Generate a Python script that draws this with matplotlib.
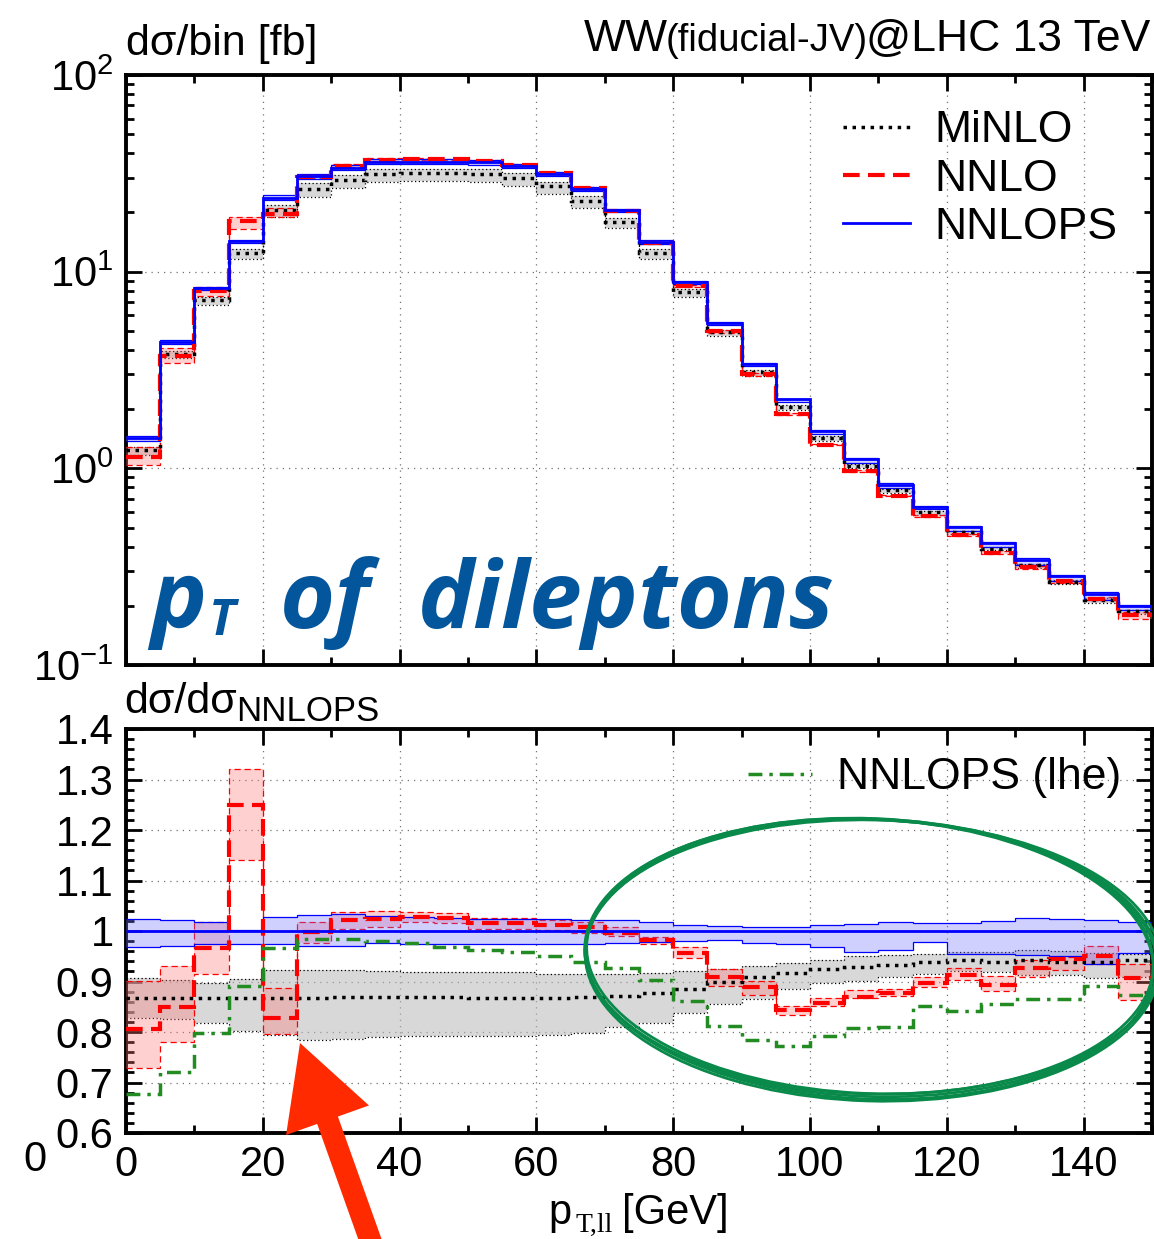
import numpy as np
import matplotlib
matplotlib.use("Agg")
import matplotlib.pyplot as plt
from matplotlib.lines import Line2D
from matplotlib.patches import Ellipse, FancyArrow
from matplotlib.transforms import Affine2D
from matplotlib.ticker import MultipleLocator, LogLocator, NullFormatter

plt.rcParams['font.family'] = ['Liberation Sans', 'DejaVu Sans']
plt.rcParams['mathtext.fontset'] = 'custom'
plt.rcParams['mathtext.rm'] = 'Liberation Sans'
plt.rcParams['mathtext.it'] = 'Liberation Sans:italic'

# --- data (5 GeV bins of pT,ll) ---
edges = [0, 5, 10, 15, 20, 25, 30, 35, 40, 45, 50, 55, 60, 65, 70, 75,
         80, 85, 90, 95, 100, 105, 110, 115, 120, 125, 130, 135, 140, 145, 150]

# NNLOPS dsigma/bin [fb]
nnlops_xs = [1.42, 4.40, 8.25, 14.4, 23.8, 30.5, 33.8, 36.3, 36.3, 36.3,
             36.0, 34.5, 31.3, 26.4, 20.5, 14.2, 8.88, 5.47, 3.39, 2.24,
             1.54, 1.11, 0.827, 0.637, 0.501, 0.416, 0.340, 0.282, 0.229, 0.199]
nnlops_hi = [1.023, 1.021, 1.017, 1.002, 1.028, 1.031, 1.034, 1.030, 1.027, 1.026,
             1.024, 1.023, 1.023, 1.021, 1.021, 1.017, 1.011, 1.010, 1.007, 1.007,
             1.012, 1.013, 1.017, 1.015, 1.015, 1.020, 1.026, 1.023, 1.021, 1.017]
nnlops_lo = [0.968, 0.970, 0.974, 0.975, 0.975, 0.970, 0.970, 0.977, 0.974, 0.974,
             0.974, 0.974, 0.974, 0.974, 0.977, 0.979, 0.980, 0.982, 0.976, 0.974,
             0.968, 0.958, 0.962, 0.979, 0.955, 0.954, 0.952, 0.950, 0.934, 0.957]

# ratios to NNLOPS
minlo_r = [0.868, 0.868, 0.868, 0.868, 0.868, 0.868, 0.869, 0.869, 0.870, 0.870,
           0.868, 0.867, 0.867, 0.869, 0.871, 0.878, 0.886, 0.900, 0.909, 0.917,
           0.924, 0.929, 0.933, 0.939, 0.942, 0.939, 0.943, 0.939, 0.939, 0.942]
minlo_hi = [0.906, 0.902, 0.898, 0.904, 0.922, 0.922, 0.922, 0.921, 0.919, 0.919,
            0.919, 0.919, 0.914, 0.914, 0.914, 0.916, 0.921, 0.924, 0.931, 0.937,
            0.943, 0.950, 0.952, 0.954, 0.958, 0.959, 0.962, 0.960, 0.957, 0.955]
minlo_lo = [0.828, 0.825, 0.818, 0.802, 0.794, 0.785, 0.787, 0.791, 0.792, 0.792,
            0.792, 0.792, 0.794, 0.799, 0.809, 0.818, 0.838, 0.856, 0.865, 0.886,
            0.898, 0.901, 0.909, 0.914, 0.921, 0.919, 0.912, 0.912, 0.906, 0.908]

nnlo_r = [0.806, 0.849, 0.967, 1.250, 0.828, 0.998, 1.021, 1.023, 1.028, 1.025,
          1.015, 1.015, 1.011, 1.007, 0.997, 0.982, 0.957, 0.908, 0.889, 0.843,
          0.858, 0.869, 0.878, 0.898, 0.913, 0.893, 0.927, 0.944, 0.950, 0.906]
nnlo_hi = [0.901, 0.931, 1.018, 1.320, 0.887, 1.018, 1.038, 1.040, 1.038, 1.035,
           1.025, 1.025, 1.021, 1.017, 1.007, 0.988, 0.968, 0.925, 0.901, 0.851,
           0.867, 0.884, 0.886, 0.908, 0.926, 0.911, 0.942, 0.949, 0.970, 0.934]
nnlo_lo = [0.729, 0.781, 0.915, 1.140, 0.797, 0.977, 1.003, 1.007, 1.018, 1.016,
           1.003, 1.003, 1.001, 0.997, 0.990, 0.975, 0.946, 0.891, 0.873, 0.833,
           0.851, 0.868, 0.871, 0.889, 0.902, 0.881, 0.909, 0.922, 0.934, 0.863]

lhe_r = [0.678, 0.721, 0.799, 0.892, 0.966, 0.985, 0.985, 0.981, 0.977, 0.968,
         0.962, 0.958, 0.950, 0.939, 0.927, 0.903, 0.861, 0.811, 0.785, 0.772,
         0.792, 0.807, 0.809, 0.851, 0.842, 0.855, 0.865, 0.865, 0.891, 0.873]

x_ticks = [0, 20, 40, 60, 80, 100, 120, 140]
x_tick_labels = ['0', '20', '40', '60', '80', '100', '120', '140']
top_ticks = [0.1, 1, 10, 100]
top_tick_labels = [r'$\mathrm{10^{-1}}$', r'$\mathrm{10^{0}}$', r'$\mathrm{10^{1}}$', r'$\mathrm{10^{2}}$']
ratio_ticks = [0.6, 0.7, 0.8, 0.9, 1.0, 1.1, 1.2, 1.3, 1.4]
ratio_tick_labels = ['0.6', '0.7', '0.8', '0.9', '1', '1.1', '1.2', '1.3', '1.4']

edges = np.array(edges)
nnlops_xs = np.array(nnlops_xs)
one = np.ones_like(nnlops_xs)

# --- figure ---
W, H = 1154, 1239
fig = plt.figure(figsize=(W / 100, H / 100), dpi=100)
pix = Affine2D().scale(1 / W, -1 / H).translate(0, 1) + fig.transFigure

ax1 = fig.add_axes([126 / W, 1 - 665 / H, 1026 / W, 590 / H])
ax2 = fig.add_axes([126 / W, 1 - 1133 / H, 1026 / W, 404 / H])

DOT = (0, (1, 1.6))
DASH = (0, (4, 2))
DASHDOT = (0, (4, 2, 1, 2))

styles = [
    # name, colour, fill, linestyle, band-edge style, lw, zorder
    ('minlo', 'k', (0.72, 0.72, 0.72, 0.55), DOT, (0, (1, 2)), 2.5, 2),
    ('nnlo', 'red', (1.0, 0.45, 0.45, 0.33), DASH, (0, (5, 3)), 3.0, 3),
    ('nnlops', 'blue', (0.45, 0.45, 1.0, 0.33), '-', '-', 2.0, 4),
]
sets = {
    'minlo': (np.array(minlo_r), np.array(minlo_lo), np.array(minlo_hi)),
    'nnlo': (np.array(nnlo_r), np.array(nnlo_lo), np.array(nnlo_hi)),
    'nnlops': (one, np.array(nnlops_lo), np.array(nnlops_hi)),
}

for ax, scale in ((ax1, nnlops_xs), (ax2, one)):
    for name, col, fill, ls, els, lw, z in styles:
        c, lo, hi = sets[name]
        ax.stairs(hi * scale, edges, baseline=lo * scale, fill=True,
                  facecolor=fill, edgecolor='none', zorder=z)
        for b in (lo, hi):
            ax.stairs(b * scale, edges, baseline=None, color=col, lw=0.9, linestyle=els, zorder=z)
        ax.stairs(c * scale, edges, baseline=None, color=col, lw=lw, linestyle=ls, zorder=z + 5)

ax2.stairs(lhe_r, edges, baseline=None, color='#228b22', lw=2.5, linestyle=DASHDOT, zorder=8)

# --- axes styling ---
for ax in (ax1, ax2):
    ax.set_xlim(0, 150)
    ax.xaxis.set_major_locator(MultipleLocator(20))
    ax.xaxis.set_minor_locator(MultipleLocator(10))
    ax.tick_params(which='both', direction='in', top=True, right=True, width=2, labelsize=30, pad=9)
    ax.tick_params(which='major', length=11.5)
    ax.tick_params(which='minor', length=6)
    ax.grid(True, which='major', color='0.45', linestyle=(0, (1, 4)), linewidth=0.9)
    ax.set_axisbelow(True)
    for s in ax.spines.values():
        s.set_linewidth(2.8)

ax1.set_yscale('log')
ax1.set_ylim(0.1, 100)
ax1.set_yticks(top_ticks, labels=top_tick_labels)
ax1.yaxis.set_minor_locator(LogLocator(base=10, subs=[2, 3, 4, 5, 6, 7, 8, 9]))
ax1.yaxis.set_minor_formatter(NullFormatter())
ax1.tick_params(labelbottom=False)

ax2.set_ylim(0.6, 1.4)
ax2.set_yticks(ratio_ticks, labels=ratio_tick_labels)
ax2.yaxis.set_minor_locator(MultipleLocator(0.02))
ax2.set_xticks(x_ticks, labels=x_tick_labels)

# legends
h1 = [Line2D([], [], color='k', lw=2.5, linestyle=DOT),
      Line2D([], [], color='red', lw=3, linestyle=DASH),
      Line2D([], [], color='blue', lw=2)]
ax1.legend(h1, ['MiNLO', 'NNLO', 'NNLOPS'], loc='upper left', bbox_to_anchor=(0.699, 0.94),
           frameon=False, fontsize=32, handlelength=1.5, handletextpad=0.55,
           labelspacing=0.16, borderpad=0, borderaxespad=0)
h2 = [Line2D([], [], color='#228b22', lw=2.5, linestyle=DASHDOT)]
ax2.legend(h2, ['NNLOPS (lhe)'], loc='upper left', bbox_to_anchor=(0.606, 0.93),
           frameon=False, fontsize=32, handlelength=1.45, handletextpad=0.55,
           borderpad=0, borderaxespad=0)

# --- texts ---
fig.text(126, 55, 'dσ/bin [fb]', transform=pix, fontsize=31, va='baseline')
fig.text(124, 713, 'dσ/dσ', transform=pix, fontsize=31, va='baseline')
fig.text(236, 721, 'NNLOPS', transform=pix, fontsize=25, va='baseline')
fig.text(584, 51, 'WW', transform=pix, fontsize=32, va='baseline')
fig.text(666, 51, '(fiducial-JV)', transform=pix, fontsize=27.5, va='baseline')
fig.text(1150, 51, '@LHC 13 TeV', transform=pix, fontsize=32, va='baseline', ha='right')
fig.text(548, 1224, 'p', transform=pix, fontsize=30, va='baseline')
fig.text(575, 1232, 'T,ll', transform=pix, fontsize=20, va='baseline', family='Liberation Serif')
fig.text(622, 1224, '[GeV]', transform=pix, fontsize=30, va='baseline')
fig.text(35, 1160, '0', transform=pix, fontsize=30, va='center', ha='center')

blue_txt = '#03569b'
bold_it = dict(transform=pix, va='baseline', color=blue_txt, family='Open Sans',
               style='italic', weight='bold')
fig.text(150, 628, 'p', fontsize=68, **bold_it)
fig.text(209, 635, 'T', fontsize=36, **bold_it)
fig.text(280, 628, 'of', fontsize=68, **bold_it)
fig.text(418, 628, 'dileptons', fontsize=68, **bold_it)

# hand-drawn annotations
for dx, dy, dw, dh, da in [(0, 0, 0, 0, 0), (2, -1, 4, -3, -0.6), (-2, 1, -3, 3, 0.5),
                           (1, 2, 2, 5, -0.3), (-1, -2, -5, -2, 0.3)]:
    fig.add_artist(Ellipse((871 + dx, 958 + dy), 572 + dw, 277 + dh, angle=2 + da,
                           transform=pix, fill=False, edgecolor='#0a8a4a', lw=2.0))
fig.add_artist(FancyArrow(372, 1245, -72, -202, width=22, head_width=88, head_length=82,
                          length_includes_head=True, transform=pix, color='#ff2a00', lw=0))

fig.savefig('out.png', dpi=100)
